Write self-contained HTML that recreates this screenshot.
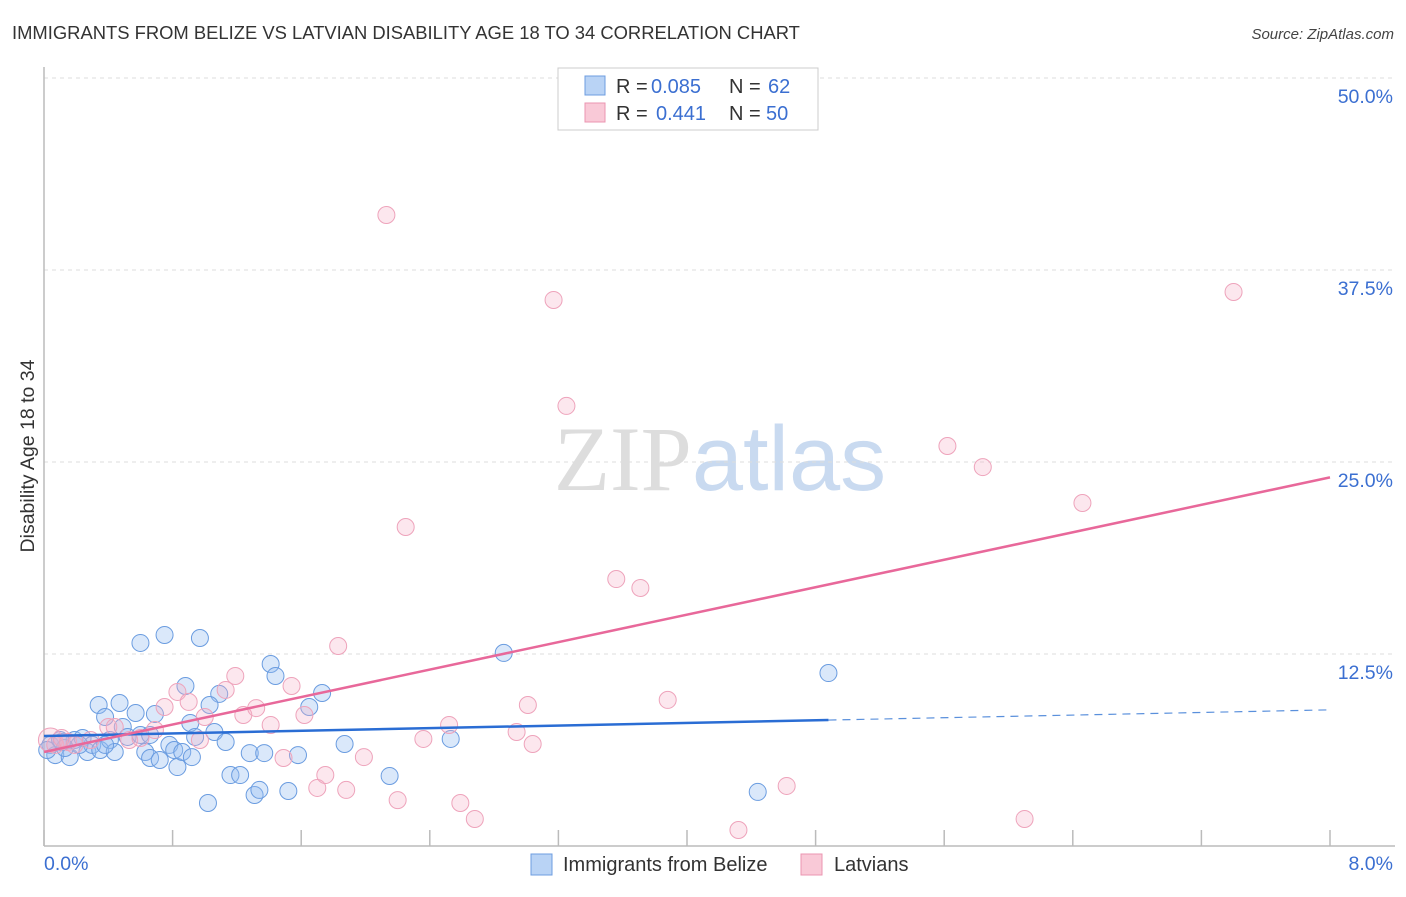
<!DOCTYPE html>
<html><head><meta charset="utf-8"><style>
body{margin:0;background:#fff;font-family:"Liberation Sans",sans-serif;}
svg text{font-family:"Liberation Sans",sans-serif;}
</style></head><body>
<svg id="chart" width="1406" height="892" xmlns="http://www.w3.org/2000/svg">
<text x="12" y="39" font-size="18.4" fill="#333">IMMIGRANTS FROM BELIZE VS LATVIAN DISABILITY AGE 18 TO 34 CORRELATION CHART</text>
<text x="1394" y="39" font-size="15" fill="#444" text-anchor="end" font-style="italic">Source: ZipAtlas.com</text>
<text x="720" y="490" font-size="92" text-anchor="middle"><tspan fill="#ddd" font-family="Liberation Serif">ZIP</tspan><tspan fill="#c9daf0">atlas</tspan></text>
<g id="grid"></g>
<line x1="44" y1="67" x2="44" y2="846" stroke="#bbb" stroke-width="1.5"/>
<line x1="44" y1="846" x2="1395" y2="846" stroke="#bbb" stroke-width="1.5"/>
<text transform="translate(34,456) rotate(-90)" font-size="19.5" fill="#333" text-anchor="middle">Disability Age 18 to 34</text>
<text x="44" y="870" font-size="19.5" fill="#3b6fd1">0.0%</text>
<text x="1393" y="870" font-size="19.5" fill="#3b6fd1" text-anchor="end">8.0%</text>
<g id="points"></g>
<g id="trends"></g>
<g>
<rect x="558" y="68" width="260" height="62" fill="#fff" stroke="#ccc"/>
<rect x="585" y="76" width="20" height="19" fill="#b9d3f5" stroke="#6d9de0"/>
<rect x="585" y="103" width="20" height="19" fill="#f9c9d7" stroke="#eb95b0"/>
<text x="616" y="93" font-size="20" fill="#333">R =</text>
<text x="651" y="93" font-size="20" fill="#3b6fd1">0.085</text>
<text x="729" y="93" font-size="20" fill="#333">N =</text>
<text x="768" y="93" font-size="20" fill="#3b6fd1">62</text>
<text x="616" y="120" font-size="20" fill="#333">R =</text>
<text x="656" y="120" font-size="20" fill="#3b6fd1">0.441</text>
<text x="729" y="120" font-size="20" fill="#333">N =</text>
<text x="766" y="120" font-size="20" fill="#3b6fd1">50</text>
</g>
<g>
<rect x="531" y="854" width="21" height="21" fill="#b9d3f5" stroke="#6d9de0"/>
<text x="563" y="871" font-size="20" fill="#333">Immigrants from Belize</text>
<rect x="801" y="854" width="21" height="21" fill="#f9c9d7" stroke="#eb95b0"/>
<text x="834" y="871" font-size="20" fill="#333">Latvians</text>
</g>
</svg>
<script>
const yTicks=[12.5,25,37.5,50];
const yTickLabels=["12.5%","25.0%","37.5%","50.0%"];
const xTicks=[0,0.8,1.6,2.4,3.2,4,4.8,5.6,6.4,7.2,8];
const blueX=[0.04,0.07,0.11,0.16,0.19,0.24,0.27,0.30,0.34,0.35,0.38,0.41,0.44,0.47,0.49,0.52,0.57,0.60,0.60,0.63,0.66,0.69,0.72,0.75,0.78,0.81,0.83,0.86,0.88,0.91,0.92,0.94,0.97,1.02,1.06,1.09,1.13,1.16,1.22,1.28,1.31,1.34,1.37,1.41,1.44,1.52,1.58,1.65,1.73,1.87,2.15,2.53,2.86,4.44,4.88,0.13,0.22,1.03,0.66,0.38,0.10,0.02];
const blueY=[6.58,5.92,6.77,5.79,6.90,7.03,6.12,6.58,9.18,6.25,8.40,6.90,6.12,9.31,7.75,7.10,8.66,13.22,7.23,6.12,5.73,8.59,5.60,13.74,6.58,6.25,5.14,6.12,10.42,8.01,5.79,7.10,13.54,2.80,7.42,9.90,6.77,4.62,4.62,6.05,3.32,3.65,6.05,11.85,11.07,3.58,5.92,9.05,9.96,6.64,4.56,6.97,12.57,3.52,11.26,6.38,6.58,9.18,7.23,6.58,6.90,6.25];
const pinkX=[0.04,0.07,0.11,0.15,0.19,0.29,0.40,0.44,0.53,0.60,0.69,0.75,0.83,0.90,0.97,1.00,1.13,1.19,1.24,1.32,1.41,1.49,1.54,1.62,1.70,1.75,1.83,1.88,1.99,2.13,2.20,2.25,2.36,2.52,2.59,2.68,2.94,3.01,3.04,3.17,3.25,3.56,3.71,3.88,4.32,4.62,5.62,5.84,6.10,6.46,7.40];
const pinkY=[6.90,6.58,7.03,6.77,6.58,6.90,7.75,7.75,6.90,7.03,7.55,9.05,10.03,9.38,6.90,8.40,10.16,11.07,8.53,8.98,7.88,5.73,10.42,8.53,3.78,4.62,13.02,3.65,5.79,41.08,2.99,20.77,6.97,7.88,2.80,1.76,7.42,9.18,6.64,35.55,28.65,17.38,16.80,9.51,1.04,3.91,26.04,24.67,1.76,22.33,36.07];
const blueTrend=[7.16,0.213];
const pinkTrend=[6.12,2.235];
const blueSolidEnd=[4.88];

const NS="http://www.w3.org/2000/svg";
const X=v=>44+v/8*1286;
const Y=v=>846-v/12.5*192;
function mk(t,a){const e=document.createElementNS(NS,t);for(const k in a)e.setAttribute(k,a[k]);return e;}
const grid=document.getElementById('grid');
yTicks.forEach((t,i)=>{
  const l=mk('line',{x1:44,x2:1395,y1:Y(t),y2:Y(t),stroke:'#ddd','stroke-dasharray':'4,4'});
  
  
  grid.appendChild(l);
  const tx=mk('text',{x:1393,y:Y(t)+25,'font-size':19.5,fill:'#3b6fd1','text-anchor':'end'});
  tx.textContent=yTickLabels[i];
  
  
  grid.appendChild(tx);
});
xTicks.forEach(t=>{
  const l=mk('line',{x1:X(t),x2:X(t),y1:830,y2:846,stroke:'#bbb','stroke-width':1.5});
  
  
  grid.appendChild(l);
});
const pts=document.getElementById('points');
blueX.forEach((x,i)=>{
  const c=mk('circle',{cx:X(x),cy:Y(blueY[i]),r:8.5,fill:'rgba(150,190,240,0.35)',stroke:'#6a9ce0','stroke-width':1});
  
  
  pts.appendChild(c);
});
pinkX.forEach((x,i)=>{
  const c=mk('circle',{cx:X(x),cy:Y(pinkY[i]),r:i==0?12:8.5,fill:'rgba(245,175,200,0.3)',stroke:'#eea3bb','stroke-width':1});
  
  
  pts.appendChild(c);
});
const tr=document.getElementById('trends');
const bf=v=>blueTrend[0]+blueTrend[1]*v, pf=v=>pinkTrend[0]+pinkTrend[1]*v;
let l1=mk('line',{x1:X(0),y1:Y(bf(0)),x2:X(blueSolidEnd[0]),y2:Y(bf(blueSolidEnd[0])),stroke:'#2a6dd4','stroke-width':2.5});


tr.appendChild(l1);
let l2=mk('line',{x1:X(blueSolidEnd[0]),y1:Y(bf(blueSolidEnd[0])),x2:X(8),y2:Y(bf(8)),stroke:'#5a90dc','stroke-width':1.2,'stroke-dasharray':'8,6'});


tr.appendChild(l2);
let l3=mk('line',{x1:X(0),y1:Y(pf(0)),x2:X(8),y2:Y(pf(8)),stroke:'#e8689a','stroke-width':2.5});


tr.appendChild(l3);
</script>
</body></html>
